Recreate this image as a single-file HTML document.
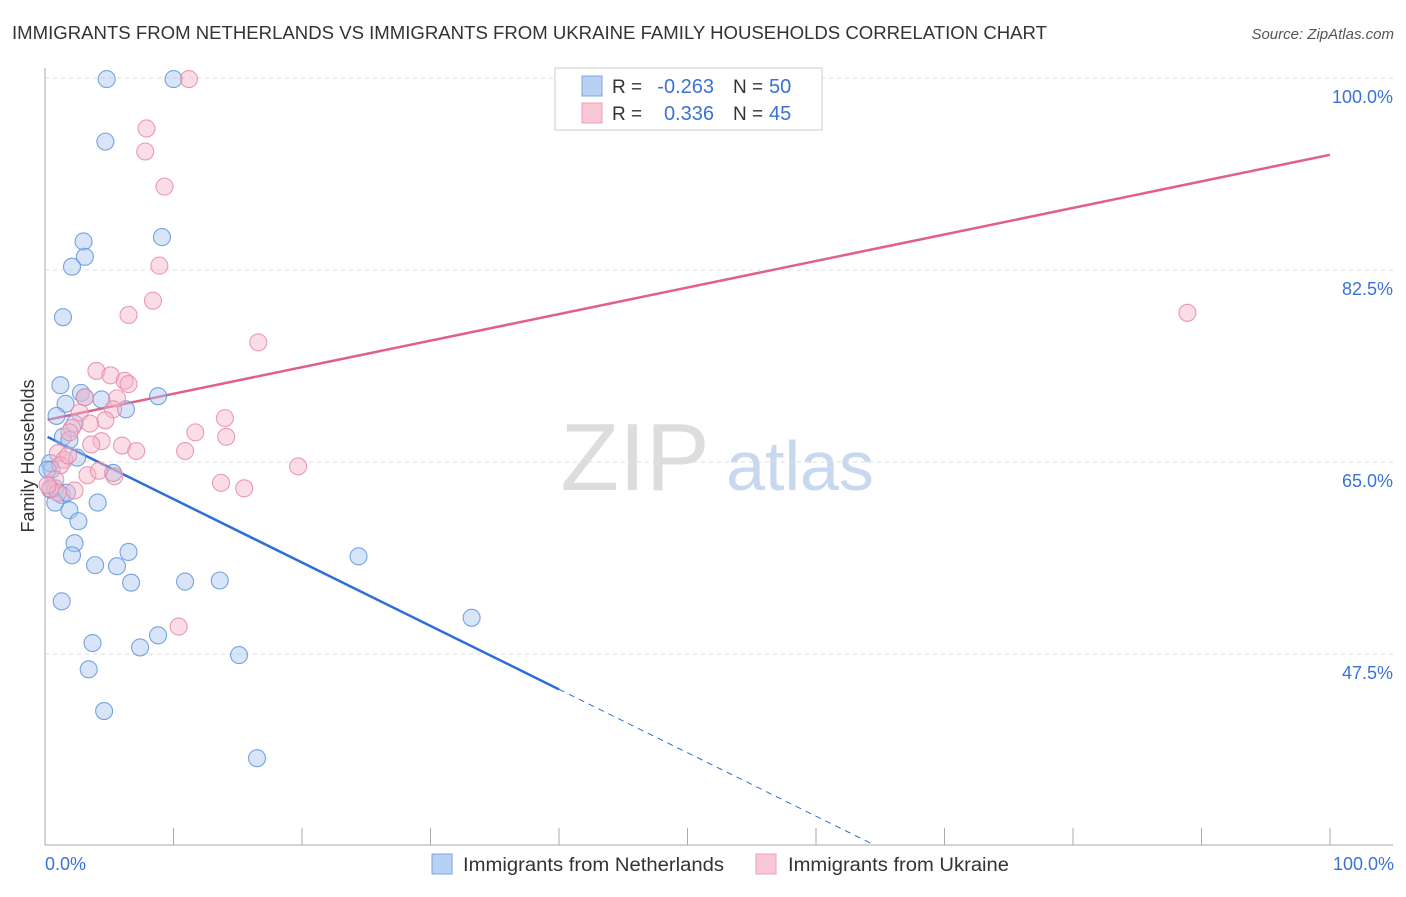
<!DOCTYPE html>
<html><head><meta charset="utf-8"><style>
body{margin:0;background:#fff;font-family:"Liberation Sans",sans-serif;}
svg text{font-family:"Liberation Sans",sans-serif;}
</style></head><body>
<svg id="chart" width="1406" height="892">
<text x="12" y="39" font-size="18" fill="#333" textLength="1035" lengthAdjust="spacingAndGlyphs">IMMIGRANTS FROM NETHERLANDS VS IMMIGRANTS FROM UKRAINE FAMILY HOUSEHOLDS CORRELATION CHART</text>
<text x="1394" y="39" font-size="15" fill="#555" font-style="italic" text-anchor="end">Source: ZipAtlas.com</text>
<g>
<text x="635" y="490" font-size="96" fill="#ddd" font-family="Liberation Serif" text-anchor="middle">ZIP</text>
<text x="800" y="490" font-size="70" fill="#c8d8ee" text-anchor="middle">atlas</text>
</g>
<g id="grid"></g>
<g id="axes"></g>
<g id="lines"></g>
<g id="points"></g>
<text transform="translate(34,456) rotate(-90)" font-size="18" fill="#333" text-anchor="middle">Family Households</text>
<text x="45" y="870" font-size="18" fill="#3a72d8">0.0%</text>
<text x="1394" y="870" font-size="18" fill="#3a72d8" text-anchor="end">100.0%</text>
<g>
<rect x="555" y="68" width="267" height="62" fill="#fff" stroke="#ccc"/>
<rect x="582" y="76" width="20" height="20" fill="#b8d0f4" stroke="#7aa6e4"/>
<rect x="582" y="103" width="20" height="20" fill="#f8c8d6" stroke="#eca0b8"/>
<text x="612" y="93" font-size="19" fill="#333">R =</text>
<text x="714" y="93" font-size="20" fill="#3a72d8" text-anchor="end">-0.263</text>
<text x="733" y="93" font-size="19" fill="#333">N =</text>
<text x="769" y="93" font-size="20" fill="#3a72d8">50</text>
<text x="612" y="120" font-size="19" fill="#333">R =</text>
<text x="714" y="120" font-size="20" fill="#3a72d8" text-anchor="end">0.336</text>
<text x="733" y="120" font-size="19" fill="#333">N =</text>
<text x="769" y="120" font-size="20" fill="#3a72d8">45</text>
</g>
<g>
<rect x="432" y="854" width="20" height="20" fill="#b8d0f4" stroke="#7aa6e4"/>
<text x="463" y="871" font-size="19" fill="#333" textLength="261" lengthAdjust="spacingAndGlyphs">Immigrants from Netherlands</text>
<rect x="756" y="854" width="20" height="20" fill="#f8c8d6" stroke="#eca0b8"/>
<text x="788" y="871" font-size="19" fill="#333" textLength="221" lengthAdjust="spacingAndGlyphs">Immigrants from Ukraine</text>
</g>
</svg>
<script>
const yTicks=[100,82.5,65,47.5];
const yTickLabels=["100.0%","82.5%","65.0%","47.5%"];
const xTicks=[0,10,20,30,40,50,60,70,80,90,100];
const nlX=[4.8,10.0,4.7,3.0,3.1,9.1,2.1,1.4,1.2,2.8,1.6,0.9,4.4,6.3,8.8,3.1,2.3,1.4,1.9,2.5,0.4,0.5,0.8,1.3,1.7,0.8,4.1,1.9,2.6,5.3,2.3,2.1,6.5,3.9,5.6,6.7,10.9,13.6,24.4,33.2,1.3,3.7,8.8,7.4,3.4,15.1,4.6,16.5,0.2,0.4];
const nlY=[99.9,99.9,94.2,85.1,83.7,85.5,82.8,78.2,72.0,71.3,70.3,69.2,70.7,69.8,71.0,70.9,68.5,67.3,67.0,65.4,64.9,64.3,62.6,62.0,62.2,61.3,61.3,60.6,59.6,64.0,57.6,56.5,56.8,55.6,55.5,54.0,54.1,54.2,56.4,50.8,52.3,48.5,49.2,48.1,46.1,47.4,42.3,38.0,64.3,62.5];
const uaX=[11.2,7.9,7.8,9.3,8.9,8.4,6.5,16.6,4.0,5.1,6.2,6.5,5.6,3.1,5.3,2.7,4.7,3.5,14.0,11.7,14.1,2.1,4.4,3.6,6.0,7.1,10.9,1.0,1.5,1.2,1.8,19.7,3.3,4.2,5.4,13.7,15.5,2.3,0.8,0.4,1.0,10.4,88.9,1.9,0.2];
const uaY=[99.9,95.4,93.3,90.1,82.9,79.7,78.4,75.9,73.3,72.9,72.4,72.1,70.8,70.9,69.8,69.5,68.8,68.5,69.0,67.7,67.3,68.1,66.9,66.6,66.5,66.0,66.0,65.8,65.2,64.7,65.6,64.6,63.8,64.2,63.7,63.1,62.6,62.4,63.4,62.6,62.2,50.0,78.6,67.7,62.9];
const nlFit=[67.4,-0.578];
const uaFit=[68.8,0.242];
const NS="http://www.w3.org/2000/svg";
const X=v=>45+v*12.85;
const Y=v=>78+(100-v)*192/17.5;
function mk(t,a,p){const e=document.createElementNS(NS,t);for(const k in a)e.setAttribute(k,a[k]);p.appendChild(e);return e;}
const grid=document.getElementById('grid'),axes=document.getElementById('axes'),lines=document.getElementById('lines'),pts=document.getElementById('points');
yTicks.forEach((t,i)=>{
 const l=mk('line',{x1:45,x2:1393,y1:Y(t),y2:Y(t),stroke:'#ddd','stroke-dasharray':'4,4'},grid);
 
 
 const tx=mk('text',{x:1393,y:Y(t)+25,'font-size':18,fill:'#3a72d8','text-anchor':'end'},grid);
 tx.textContent=yTickLabels[i];
 
 
});
let a=mk('line',{x1:45,x2:45,y1:68,y2:845,stroke:'#aaa'},axes);


a=mk('line',{x1:45,x2:1393,y1:845,y2:845,stroke:'#aaa'},axes);


xTicks.forEach(t=>{
 const l=mk('line',{x1:X(t),x2:X(t),y1:828,y2:845,stroke:'#aaa'},axes);
 
 
});
function fitLine(f,x1,x2,col,dash,name){
 const l=mk('line',{x1:X(x1),x2:X(x2),y1:Y(f[0]+f[1]*x1),y2:Y(f[0]+f[1]*x2),stroke:col,'stroke-width':dash?1:2.5},lines);
 if(dash)l.setAttribute('stroke-dasharray','6,5');
 
 
}
fitLine(nlFit,0.2,40,'#2d6fd6',false,'netherlands-trendline');
fitLine(nlFit,40,64.4,'#2d6fd6',true,'netherlands-trendline-extrapolated');
fitLine(uaFit,0.2,100,'#e0608a',false,'ukraine-trendline');
function dots(xs,ys,fill,stroke,name){
 xs.forEach((x,i)=>{
  const c=mk('circle',{cx:X(x),cy:Y(ys[i]),r:8.5,fill:fill,'fill-opacity':0.45,stroke:stroke,'stroke-width':1.1,'stroke-opacity':0.85},pts);
  
  
 });
}
dots(nlX,nlY,'#a8c6f0','#5f95dc','netherlands-point');
dots(uaX,uaY,'#f6b4c8','#e88aa8','ukraine-point');
</script>
</body></html>
